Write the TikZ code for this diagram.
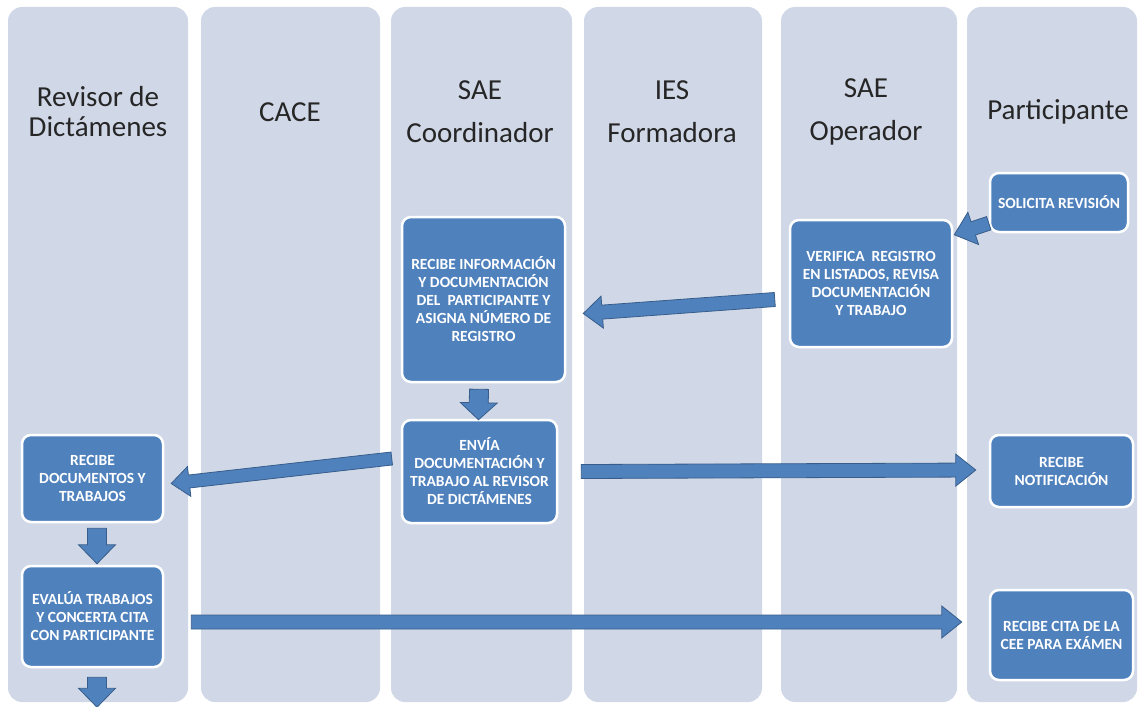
\documentclass[tikz,border=0pt]{standalone}
\usepackage{fontspec}
\setmainfont{Carlito}
\usetikzlibrary{calc}
\definecolor{lanefill}{HTML}{D0D8E8}
\definecolor{boxfill}{HTML}{4F81BD}
\definecolor{arrowline}{HTML}{385D8A}
\definecolor{hdrtext}{HTML}{262626}
\newcommand{\blockarrow}[5]{%
  \coordinate (ba-n) at ($(#2)!#5!(#1)$);
  \draw[barrow] ($(#1)!#3!90:(#2)$) -- ($(ba-n)!#3!-90:(#1)$) -- ($(ba-n)!#4!-90:(#1)$) -- (#2) -- ($(ba-n)!#4!90:(#1)$) -- ($(ba-n)!#3!90:(#1)$) -- ($(#1)!#3!-90:(#2)$) -- cycle;}
\begin{document}
\begin{tikzpicture}[x=1pt,y=-1pt,
  lane/.style={fill=lanefill, draw=none, rounded corners=14pt},
  hdr/.style={text=hdrtext, align=center, inner sep=0pt},
  task/.style={fill=boxfill, draw=white, line width=2.5pt, rounded corners=9pt, text=white,
    font=\fontsize{15.5}{18}\selectfont\bfseries, align=center, inner sep=0pt},
  barrow/.style={fill=boxfill, draw=arrowline, line width=0.8pt, line join=miter}]
\useasboundingbox[fill=white] (0,0) rectangle (1139,706);
% lanes
\fill[lane] (8,7) rectangle (188,702);
\fill[lane] (201,7) rectangle (380,702);
\fill[lane] (391,7) rectangle (572,702);
\fill[lane] (584,7) rectangle (762,702);
\fill[lane] (781,7) rectangle (957,702);
\fill[lane] (967,7) rectangle (1137,702);
% headers
\node[hdr, font=\fontsize{29}{30}\selectfont] (h1) at (98,112) {Revisor de\\Dictámenes};
\node[hdr, font=\fontsize{29}{30}\selectfont] (h2) at (290,112) {CACE};
\node[hdr, font=\fontsize{29}{43}\selectfont] (h3) at (480,112) {SAE\\Coordinador};
\node[hdr, font=\fontsize{29}{43}\selectfont] (h4) at (672,112) {IES\\Formadora};
\node[hdr, font=\fontsize{29}{43}\selectfont] (h5) at (866,112) {SAE\\Operador};
\node[hdr, font=\fontsize{29}{30}\selectfont] (h6) at (1058,112) {Participante};
% tasks
\node[task, minimum width=138pt, minimum height=59pt] (solicita) at (1059,202.5) {SOLICITA REVISIÓN};
\node[task, minimum width=162pt, minimum height=127pt] (verifica) at (871,283.5) {VERIFICA\ \ REGISTRO\\EN LISTADOS, REVISA\\DOCUMENTACIÓN\\Y TRABAJO};
\node[task, minimum width=163pt, minimum height=165pt] (recinfo) at (483.5,299.5) {RECIBE INFORMACIÓN\\Y DOCUMENTACIÓN\\DEL\ \ PARTICIPANTE Y\\ASIGNA NÚMERO DE\\REGISTRO};
\node[task, minimum width=155pt, minimum height=103pt] (envia) at (479.5,471.5) {ENVÍA\\DOCUMENTACIÓN Y\\TRABAJO AL REVISOR\\DE DICTÁMENES};
\node[task, minimum width=141pt, minimum height=87pt] (docs) at (92.5,478.5) {RECIBE\\DOCUMENTOS Y\\TRABAJOS};
\node[task, minimum width=141pt, minimum height=101pt] (evalua) at (92.5,616.5) {EVALÚA TRABAJOS\\Y CONCERTA CITA\\CON PARTICIPANTE};
\node[task, minimum width=143pt, minimum height=72pt] (notif) at (1061.5,471) {RECIBE\\NOTIFICACIÓN};
\node[task, minimum width=143pt, minimum height=90pt] (cita) at (1061.5,635) {RECIBE CITA DE LA\\CEE PARA EXÁMEN};
% arrow end points
\coordinate (a1s) at ($(solicita.south west)+(0,-10)$);
\coordinate (a1e) at ($(verifica.north east)+(1,16)$);
\coordinate (a2s) at ($(verifica.west)+(-14,16)$);
\coordinate (a2e) at ($(recinfo.east)+(17,14)$);
\coordinate (a3s) at ($(recinfo.south)+(-4.5,6)$);
\coordinate (a3e) at ($(envia.north)+(-1,1)$);
\coordinate (a4s) at ($(envia.west)+(-9,-13)$);
\coordinate (a4e) at ($(docs.east)+(7,5)$);
\coordinate (a5s) at ($(envia.east)+(23,0)$);
\coordinate (a5e) at ($(notif.west)+(-13,-1)$);
\coordinate (a6s) at ($(docs.south)+(4.5,5)$);
\coordinate (a6e) at ($(evalua.north)+(4.5,-1)$);
\coordinate (a7s) at ($(evalua.east)+(27,5.5)$);
\coordinate (a7e) at ($(cita.west)+(-27,-13)$);
\coordinate (a8s) at ($(evalua.south)+(4.5,9)$);
\coordinate (a8e) at ($(evalua.south)+(4.5,39)$);
% arrows
\blockarrow{a1s}{a1e}{7pt}{17pt}{20pt}
\blockarrow{a2s}{a2e}{7pt}{16pt}{19pt}
\blockarrow{a3s}{a3e}{9.5pt}{18.5pt}{17pt}
\blockarrow{a4s}{a4e}{6.5pt}{15pt}{18pt}
\blockarrow{a5s}{a5e}{7pt}{16pt}{20pt}
\blockarrow{a6s}{a6e}{9.5pt}{18.5pt}{19pt}
\blockarrow{a7s}{a7e}{7pt}{16pt}{20pt}
\blockarrow{a8s}{a8e}{9.5pt}{18.5pt}{19pt}
\end{tikzpicture}
\end{document}
